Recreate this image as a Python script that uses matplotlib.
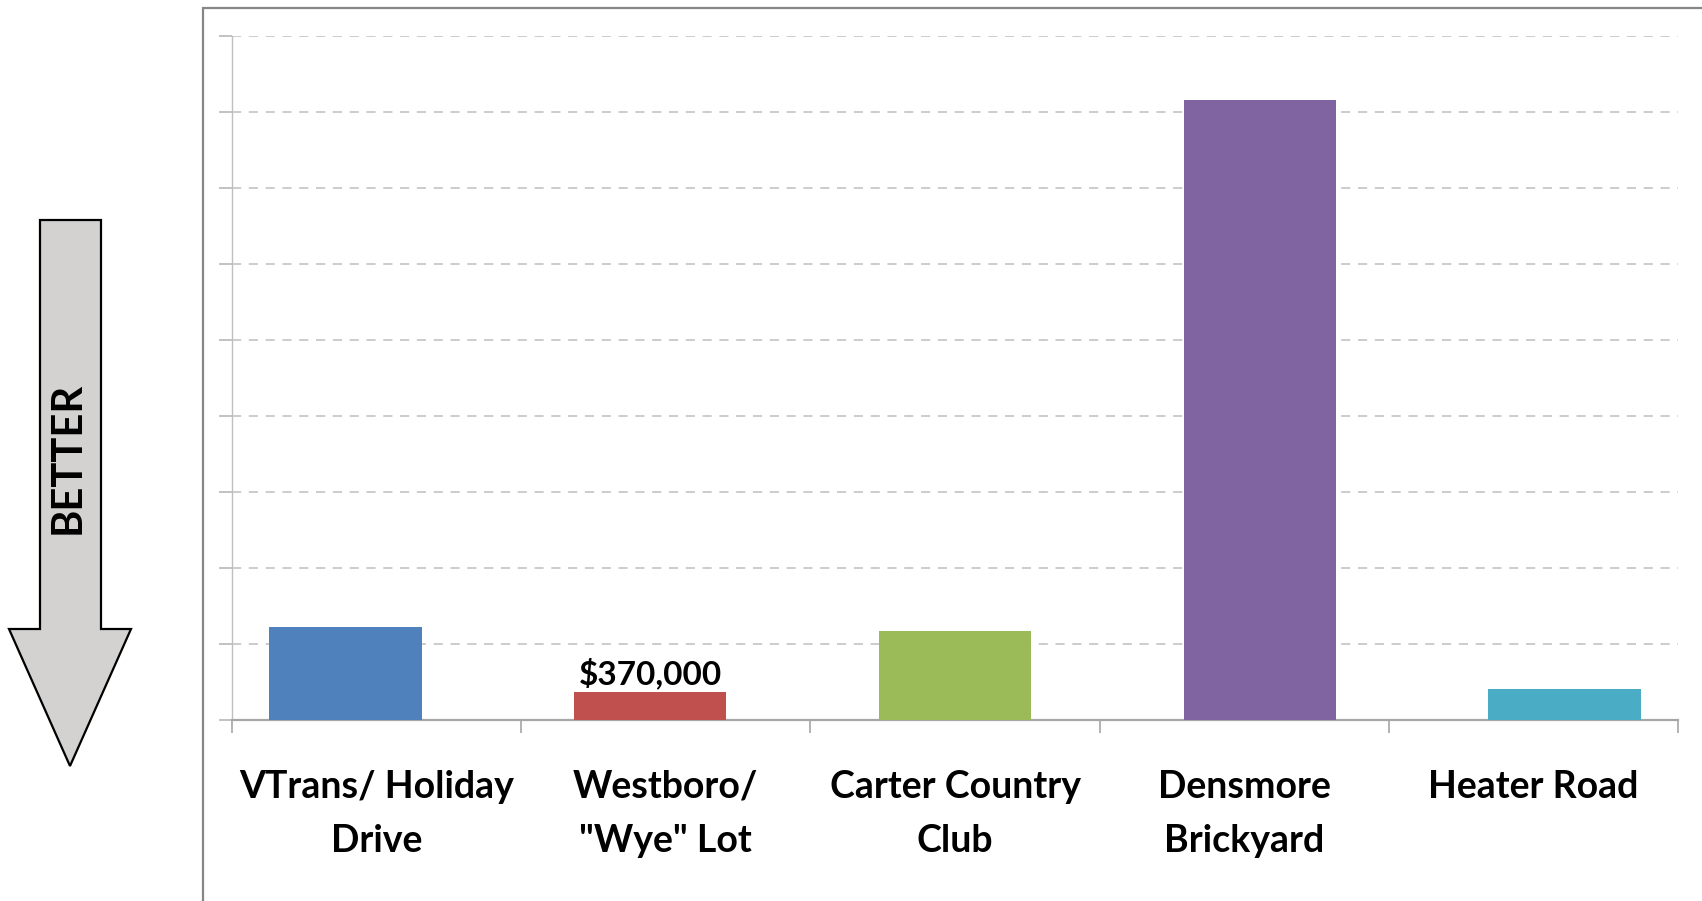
import matplotlib
matplotlib.use("Agg")
import matplotlib.pyplot as plt
from matplotlib.patches import Polygon, Rectangle

# ---- data ----
categories = ["VTrans/ Holiday\nDrive", "Westboro/\n\"Wye\" Lot", "Carter Country\nClub",
              "Densmore\nBrickyard", "Heater Road"]
costs = [1220000, 370000, 1170000, 8160000, 410000]
bar_colors = ["#4F81BD", "#C0504D", "#9BBB59", "#8064A2", "#4BACC6"]
data_labels = ["", "$370,000", "", "", ""]
y_ticks = [i * 1000000 for i in range(0, 10)]
arrow_text = "BETTER"

W, H = 1702, 901
fig = plt.figure(figsize=(W / 100, H / 100), dpi=100)
fig.patch.set_facecolor("white")
FONT = "Lato"

def fx(px):
    return px / W

def fy(py):
    return 1 - py / H

# chart frame
fig.add_artist(Rectangle((fx(203), fy(910)), fx(1720) - fx(203), fy(8) - fy(910),
                         transform=fig.transFigure, fill=False, edgecolor="#868686",
                         linewidth=1.6, zorder=0))

# main axes (categories)
ax = fig.add_axes([fx(232), fy(720), fx(1678) - fx(232), fy(36) - fy(720)])
n = len(categories)
ax.set_xlim(-0.5, n - 0.5)
ax.set_ylim(0, y_ticks[-1])
ax.set_yticks(y_ticks)
ax.set_yticklabels([])
ax.set_xticks([i - 0.5 for i in range(n + 1)])
ax.set_xticklabels([])
ax.set_xticks(list(range(n)), minor=True)
ax.set_xticklabels(categories, minor=True, fontsize=27, fontweight="bold",
                   fontfamily=FONT, linespacing=1.7)
ax.tick_params(axis="x", which="minor", length=0, pad=36)
ax.tick_params(axis="x", which="major", length=9.5, color="#A6A6A6", width=1.2, direction="out")
ax.tick_params(axis="y", length=9.5, color="#B8B8B8", width=1.2, direction="out")
for lab in ax.get_xticklabels(minor=True):
    lab.set_verticalalignment("top")
ax.grid(axis="y", color="#BFBFBF", linestyle=(0, (6, 5)), linewidth=1.1)
ax.set_axisbelow(True)
for s in ["top", "right"]:
    ax.spines[s].set_visible(False)
ax.spines["left"].set_color("#BFBFBF")
ax.spines["left"].set_linewidth(1.0)
ax.spines["bottom"].set_color("#A6A6A6")
ax.spines["bottom"].set_linewidth(1.6)
ax.spines["bottom"].set_zorder(5)

# bars on twin x axis
ax2 = ax.twiny()
ax2.set_xlim(-0.373, n - 1 + 0.373)
bars = ax2.bar(range(n), costs, width=0.5, color=bar_colors, zorder=3)
ax2.bar_label(bars, labels=data_labels, padding=2, fontsize=24, fontweight="bold",
              fontfamily=FONT)
ax2.set_xticks([])
for s in ax2.spines.values():
    s.set_visible(False)

# BETTER arrow
pts = [(40, 220), (101, 220), (101, 629), (131, 629), (70, 766), (9, 629), (40, 629)]
fig.add_artist(Polygon([(fx(x), fy(y)) for x, y in pts], closed=True,
                       transform=fig.transFigure, facecolor="#D3D2D1",
                       edgecolor="black", linewidth=1.6))
fig.text(fx(68), fy(458), arrow_text, rotation=90, ha="center", va="center",
         fontsize=30, fontweight="bold", fontfamily=FONT)

fig.savefig("out.png", dpi=100, facecolor="white")
